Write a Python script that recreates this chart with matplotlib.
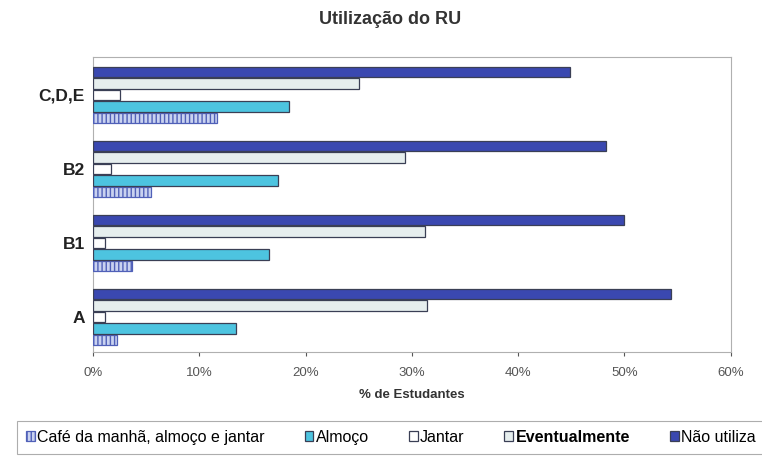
import numpy as np
import matplotlib.pyplot as plt
from matplotlib.ticker import PercentFormatter

plt.rcParams['font.family'] = ['Liberation Sans', 'DejaVu Sans']

cursos = ["A", "B1", "B2", "C,D,E"]
series = ["Café da manhã, almoço e jantar", "Almoço", "Jantar", "Eventualmente", "Não utiliza"]
cafe = [2.3, 3.7, 5.5, 11.7]
almoco = [13.5, 16.6, 17.4, 18.4]
jantar = [1.1, 1.1, 1.7, 2.5]
eventual = [31.4, 31.2, 29.4, 25.0]
nao_utiliza = [54.4, 50.0, 48.3, 44.9]

valores = [cafe, almoco, jantar, eventual, nao_utiliza]
cores = ["#c9d2f0", "#4dc4e0", "#ffffff", "#e6eeee", "#3a48b0"]
hachuras = ["||||", None, None, None, None]

fig = plt.figure(figsize=[7.62, 4.57], dpi=100)
ax = fig.add_axes([0.122, 0.230, 0.837, 0.645])

y = np.arange(len(cursos))
passo = 0.155
altura = 0.14
for i, (nome, vals) in enumerate(zip(series, valores)):
    pos = y + (i - 2) * passo
    ax.barh(pos, vals, height=altura, color=cores[i], edgecolor="#3a3f55" if i != 0 else "#5060b8",
            linewidth=0.9, hatch=hachuras[i], label=nome, zorder=3)

ax.set_xlim(0, 60)
ax.set_ylim(-0.47, 3.51)
ax.set_xticks(np.arange(0, 61, 10))
ax.xaxis.set_major_formatter(PercentFormatter(decimals=0))
ax.set_yticks(y)
ax.set_yticklabels(cursos, fontsize=12.5, fontweight="bold", color="#222222")
ax.tick_params(axis="x", labelsize=9.5, colors="#555555", length=3, pad=8)
ax.tick_params(axis="y", length=0, pad=6)
for s in ax.spines.values():
    s.set_color("#b0b0b0")
    s.set_linewidth(0.8)

ax.set_xlabel("% de Estudantes", fontsize=9.5, fontweight="bold", color="#333333", labelpad=7)
fig.text(0.512, 0.958, "Utilização do RU", ha="center", va="center", fontsize=13,
         fontweight="bold", color="#333333")

leg = fig.legend(loc="lower left", bbox_to_anchor=(0.012, -0.01), ncol=5,
                 fontsize=11.5, frameon=True, fancybox=False, handlelength=0.55, handleheight=0.6,
                 handletextpad=0.15, borderpad=0.55, columnspacing=2.5)
leg.get_frame().set_edgecolor("#999999")
leg.get_frame().set_linewidth(0.8)
leg.get_texts()[3].set_fontweight("bold")

fig.savefig("out.png", dpi=100)
